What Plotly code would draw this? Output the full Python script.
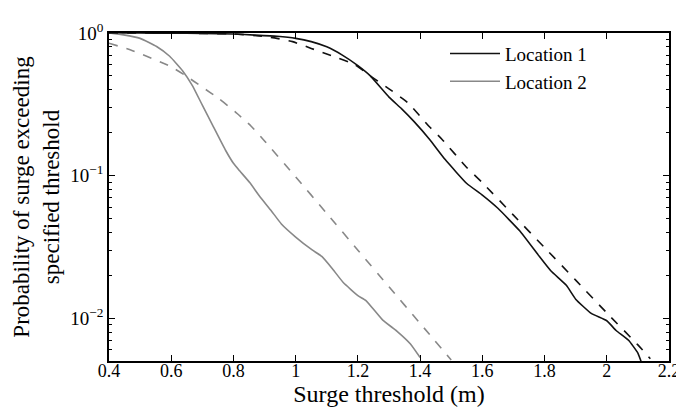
import plotly.graph_objects as go

# Location 1, empirical exceedance probability (solid black)
loc1_x = [0.40, 0.50, 0.60, 0.70, 0.80, 0.87, 0.94, 1.00, 1.05, 1.10, 1.15, 1.20,
          1.24, 1.30, 1.34, 1.38, 1.43, 1.48, 1.55, 1.60, 1.65, 1.72, 1.78, 1.82,
          1.87, 1.90, 1.95, 2.00, 2.03, 2.07, 2.10, 2.11]
loc1_y = [1.0, 0.999, 0.997, 0.993, 0.983, 0.967, 0.948, 0.917, 0.87, 0.80, 0.70, 0.59,
          0.50, 0.355, 0.295, 0.24, 0.18, 0.13, 0.088, 0.073, 0.059, 0.041, 0.0277, 0.0215,
          0.0170, 0.0136, 0.0108, 0.0096, 0.0082, 0.0070, 0.0057, 0.0050]

# Location 1, fitted distribution (dashed black)
loc1_fit_x = [0.40, 0.60, 0.80, 0.90, 0.94, 0.99, 1.05, 1.12, 1.19, 1.24, 1.30, 1.36,
              1.43, 1.47, 1.55, 1.60, 1.70, 1.80, 1.90, 2.00, 2.10, 2.14]
loc1_fit_y = [1.0, 0.998, 0.985, 0.945, 0.917, 0.87, 0.78, 0.687, 0.60, 0.50, 0.406, 0.325,
              0.22, 0.18, 0.114, 0.0893, 0.0528, 0.0313, 0.0185, 0.0109, 0.0065, 0.0052]

# Location 2, empirical exceedance probability (solid grey)
loc2_x = [0.40, 0.447, 0.50, 0.553, 0.595, 0.637, 0.668, 0.70, 0.732, 0.775, 0.80, 0.82,
          0.853, 0.884, 0.922, 0.954, 1.00, 1.053, 1.084, 1.116, 1.153, 1.20, 1.226,
          1.28, 1.326, 1.369, 1.40]
loc2_y = [1.0, 0.97, 0.917, 0.804, 0.687, 0.542, 0.428, 0.312, 0.228, 0.150, 0.122, 0.108,
          0.089, 0.0716, 0.0565, 0.0458, 0.0371, 0.0301, 0.0271, 0.0225, 0.0178, 0.0144, 0.0133,
          0.0097, 0.0081, 0.0066, 0.0053]

# Location 2, fitted distribution (dashed grey)
loc2_fit_x = [0.40, 0.468, 0.521, 0.595, 0.647, 0.70, 0.753, 0.805, 0.857, 0.90, 1.0,
              1.1, 1.2, 1.3, 1.4, 1.5]
loc2_fit_y = [0.848, 0.762, 0.687, 0.587, 0.501, 0.417, 0.347, 0.281, 0.222, 0.175, 0.098,
              0.0543, 0.030, 0.0166, 0.0092, 0.0051]

x_ticks = [0.4, 0.6, 0.8, 1.0, 1.2, 1.4, 1.6, 1.8, 2.0, 2.2]
x_labels = ["0.4", "0.6", "0.8", "1", "1.2", "1.4", "1.6", "1.8", "2", "2.2"]
y_ticks = [1, 0.1, 0.01]
y_labels = ["10<sup>0</sup>", "10<sup>\u22121</sup>", "10<sup>\u22122</sup>"]

BLACK = "#111111"
GREY = "#888888"
FONT = "Liberation Serif, Times New Roman, serif"

fig = go.Figure()

fig.add_trace(go.Scatter(x=loc1_x, y=loc1_y, mode="lines", name="Location 1",
                         line=dict(color=BLACK, width=1.6, shape="spline", smoothing=0.4)))
fig.add_trace(go.Scatter(x=loc2_x, y=loc2_y, mode="lines", name="Location 2",
                         line=dict(color=GREY, width=1.6, shape="spline", smoothing=0.4)))
fig.add_trace(go.Scatter(x=loc1_fit_x, y=loc1_fit_y, mode="lines", showlegend=False,
                         line=dict(color=BLACK, width=1.6, dash="dash", shape="spline", smoothing=0.5)))
fig.add_trace(go.Scatter(x=loc2_fit_x, y=loc2_fit_y, mode="lines", showlegend=False,
                         line=dict(color=GREY, width=1.6, dash="dash", shape="spline", smoothing=0.5)))

fig.update_layout(
    width=684,
    height=414,
    margin=dict(l=100, r=14, t=19, b=61),
    plot_bgcolor="white",
    paper_bgcolor="white",
    font=dict(family=FONT, size=18, color="black"),
    legend=dict(x=0.6, y=0.995, xanchor="left", yanchor="top", itemwidth=50,
                bgcolor="rgba(0,0,0,0)", font=dict(size=19, family=FONT, color="black"),
                tracegroupgap=0),
)

fig.update_xaxes(
    range=[0.4, 2.2],
    tickvals=x_ticks,
    ticktext=x_labels,
    ticks="inside",
    ticklen=6,
    tickcolor="black",
    ticklabelstandoff=-7,
    showline=True,
    linecolor="black",
    linewidth=1.5,
    mirror="allticks",
    showgrid=False,
    zeroline=False,
    tickfont=dict(size=18, family=FONT, color="black"),
    title=dict(text="Surge threshold (m)", font=dict(size=24, family=FONT, color="black"),
               standoff=0),
)

fig.update_yaxes(
    type="log",
    range=[-2.3, 0],
    tickvals=y_ticks,
    ticktext=y_labels,
    ticks="inside",
    ticklen=6,
    tickcolor="black",
    minor=dict(ticks="inside", ticklen=3, tickcolor="black", dtick="D1", showgrid=False),
    showline=True,
    linecolor="black",
    linewidth=1.5,
    mirror="allticks",
    showgrid=False,
    zeroline=False,
    tickfont=dict(size=19, family=FONT, color="black"),
    title=dict(text="Probability of surge exceeding<br>specified threshold",
               font=dict(size=23, family=FONT, color="black"), standoff=4),
)

fig.write_html("out.html")
